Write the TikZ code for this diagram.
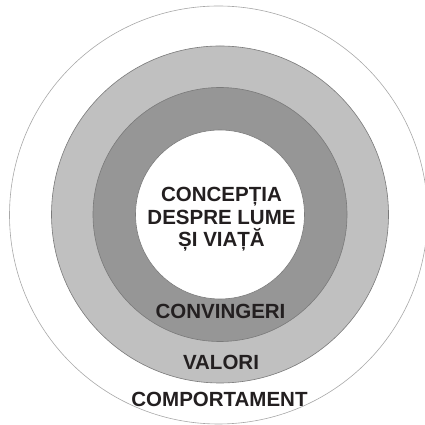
\documentclass[tikz,border=0pt]{standalone}
\usepackage{fontspec}
\setmainfont{Liberation Sans}
\definecolor{ink}{HTML}{231F20}
\definecolor{lightring}{HTML}{C0C0C0}
\definecolor{darkring}{HTML}{969696}
\definecolor{edgegray}{HTML}{7A7A7A}
\definecolor{outeredge}{HTML}{A8A8A8}
\begin{document}
\begin{tikzpicture}[x=1pt,y=1pt,
  ring/.style={circle, inner sep=0pt, outer sep=0pt, line width=0.6pt},
  lbl/.style={inner sep=0pt, text=ink, align=center,
    font=\bfseries\fontsize{20.5}{22.5}\selectfont}]
\useasboundingbox (0,0) rectangle (425,425);
\node[ring, draw=outeredge, fill=white, minimum size=418pt] (outer) at (218.5,210) {};
\node[ring, draw=edgegray, fill=lightring, minimum size=337pt] (valring) at (220,210.5) {};
\node[ring, draw=edgegray, fill=darkring, minimum size=254pt] (convring) at (220,210.5) {};
\node[ring, draw=edgegray, fill=white, minimum size=169pt] (core) at (220,210.5) {};
\node[lbl] (concept) at (221.5,205.5) {CONCEPȚIA\\DESPRE LUME\\ȘI VIAȚĂ};
\node[lbl] (conv) at (220.5,113.5) {CONVINGERI};
\node[lbl] (val) at (221,63) {VALORI};
\node[lbl] (comp) at (219.5,26) {COMPORTAMENT};
\end{tikzpicture}
\end{document}
